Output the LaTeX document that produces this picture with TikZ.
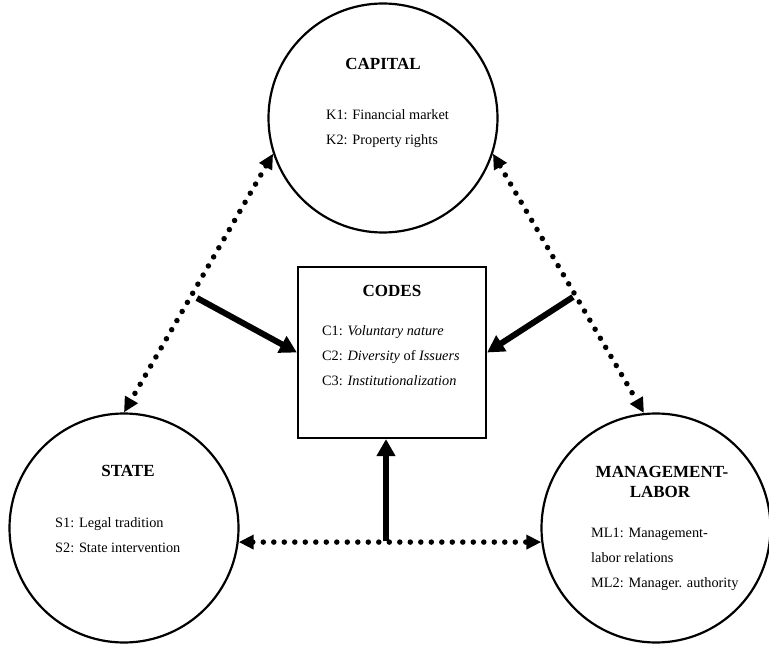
\documentclass[tikz,border=0pt]{standalone}
\usepackage{fontspec}
\setmainfont{Liberation Serif}
\usepackage{tikz}
\usetikzlibrary{calc,shapes,arrows.meta}

\tikzset{
    circ/.style={circle, draw, line width=2.2pt, minimum size=229pt, inner sep=0pt},
    codebox/.style={rectangle, draw, line width=2.2pt, minimum width=188pt, minimum height=171pt},
    dots/.style={line width=5.5pt, dash pattern=on 0pt off 10.5pt, line cap=round,
        {Triangle[length=15pt,width=14pt]}-{Triangle[length=15pt,width=14pt]}},
    push/.style={line width=6pt, -{Triangle[length=17pt,width=18pt]}},
    title/.style={font=\fontsize{17}{20}\selectfont\bfseries, anchor=base, inner sep=0pt},
    item/.style={font=\fontsize{14.3}{17}\selectfont, anchor=base west, inner sep=0pt}
}

\begin{document}
\begin{tikzpicture}[x=1pt,y=-1pt]
    \useasboundingbox (0,0) rectangle (769,647);
    \node[circ] (cap) at (383,118) {};
    \node[circ] (sta) at (124,528) {};
    \node[circ] (mgl) at (656,528) {};
    \node[codebox] (codes) at (392,352.5) {};

    \node[title] (captitle) at (383,70) {CAPITAL};
    \node[item] (k1) at (326,120) {K1: Financial market};
    \node[item] (k2) at (326,145) {K2: Property rights};

    \node[title] (codestitle) at (392,297) {CODES};
    \node[item] (c1) at (322,336) {C1: \textit{Voluntary nature}};
    \node[item] (c2) at (322,360) {C2: \textit{Diversity} of \textit{Issuers}};
    \node[item] (c3) at (322,385) {C3: \textit{Institutionalization}};

    \node[title] (statitle) at (128,476) {STATE};
    \node[item] (s1) at (55,527) {S1: Legal tradition};
    \node[item] (s2) at (55,552) {S2: State intervention};

    \node[title] (mgltitle) at (662,477) {MANAGEMENT-};
    \node[title] (mgltitleb) at (660,497) {LABOR};
    \node[item] (ml1) at (591,537) {ML1: Management-};
    \node[item] (ml1b) at (591,562) {labor relations};
    \node[item] (ml2) at (591,587) {ML2: Manager. authority};

    \draw[dots] (cap.198) -- (sta.90);
    \draw[dots] (cap.342) -- (mgl.96);
    \draw[dots] (sta.353) -- (mgl.187);

    \coordinate (lfrom) at (197,298);
    \coordinate (rfrom) at (573,297);
    \coordinate (bmid) at (386,541);
    \draw[push] (lfrom) -- (codes.west);
    \draw[push] (rfrom) -- (codes.east);
    \draw[push] (bmid) -- (bmid |- codes.south);
\end{tikzpicture}
\end{document}
